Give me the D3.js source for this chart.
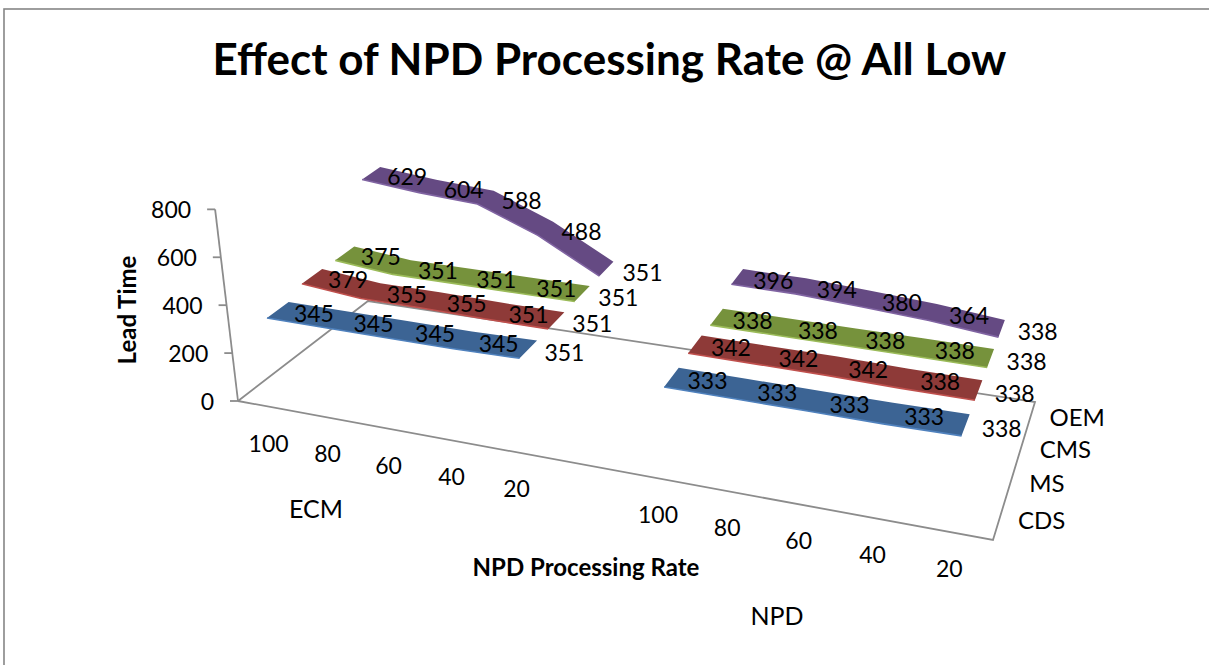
<!DOCTYPE html>
<html><head><meta charset="utf-8">
<style>html,body{margin:0;padding:0;background:#fff;overflow:hidden}svg{display:block}text{font-family:Lato,"Open Sans",sans-serif;fill:#000}</style>
<script src="https://cdn.jsdelivr.net/npm/d3@7/dist/d3.min.js"></script></head><body>
<script>
const title = "Effect of NPD Processing Rate @ All Low";
const categories = ["100","80","60","40","20","","100","80","60","40","20"];
const seriesNames = ["CDS","MS","CMS","OEM"];
const groupNames = ["ECM","NPD"];
const yTicks = [0,200,400,600,800];
const cds = [345,345,345,345,351,null,333,333,333,333,338];
const ms  = [379,355,355,351,351,null,342,342,342,338,338];
const cms = [375,351,351,351,351,null,338,338,338,338,338];
const oem = [629,604,588,488,351,null,396,394,380,364,338];
const seriesValues = [cds,ms,cms,oem];
const topColors = ["#3c6494","#8e3a38","#76923c","#654a83"];
const edgeColors = ["#4f81bd","#c0504d","#9bbb59","#8064a2"];

const W=1209,H=665;
const svg=d3.select("body").append("svg").attr("width",W).attr("height",H);

// floor quad of the 3D box → projective map
const Q=[[238,401],[993,540],[1035,402],[368,301]];
const [x0,y0]=Q[0],[x1,y1]=Q[1],[x2,y2]=Q[2],[x3,y3]=Q[3];
const sx=x0-x1+x2-x3, sy=y0-y1+y2-y3, dx1=x1-x2, dx2=x3-x2, dy1=y1-y2, dy2=y3-y2;
const det=dx1*dy2-dx2*dy1;
const g=(sx*dy2-dx2*sy)/det, h=(dx1*sy-sx*dy1)/det;
const a=x1-x0+g*x1, b=x3-x0+h*x3, d_=y1-y0+g*y1, e=y3-y0+h*y3;
const VP=[620,3600];
const uScale=d3.scaleLinear().domain([0,4,6,10]).range([0.0485,0.4135,0.602,0.9515]);
const vScale=d3.scalePoint().domain(d3.range(seriesNames.length)).range([0,1]).padding(0.5);
const yScale=d3.scaleLinear().domain([0,800]).range([0,193]);
function project(u,v,val){
  const w=g*u+h*v+1, fx=(a*u+b*v+x0)/w, fy=(d_*u+e*v+y0)/w;
  if(!val) return [fx,fy];
  const px=yScale(val)/Math.pow(w,0.5), dx=fx-VP[0], dy=fy-VP[1], L=Math.hypot(dx,dy);
  return [fx+dx/L*px, fy+dy/L*px];
}
const line=d3.line();

// chart frame
svg.append("rect").attr("x",4).attr("y",9).attr("width",W+20).attr("height",H+20)
  .attr("fill","#fff").attr("stroke","#868686").attr("stroke-width",1.6);

svg.append("text").attr("x",609.5).attr("y",75).attr("text-anchor","middle")
  .attr("font-size",44).attr("font-weight",700).text(title);

// floor lines and axes
const axisG=svg.append("g").attr("fill","none").attr("stroke","#8c8c8c").attr("stroke-width",1.8);
axisG.append("path").attr("d",line([...Q,Q[0]]));
axisG.append("path").attr("d",line([project(0,0),project(0,0,800)]));
yTicks.forEach(t=>{
  const p=t?project(0,0,t):project(0,0);
  axisG.append("path").attr("d",line([[p[0]-8,p[1]],p]));
  svg.append("text").attr("x",p[0]-24).attr("y",p[1]+9).attr("text-anchor","end").attr("font-size",23).text(t);
});

// ribbons
const halfDepth=0.075;
const labels=[];
d3.range(seriesNames.length).reverse().forEach(si=>{
  const vals=seriesValues[si], vc=vScale(si);
  const runs=[d3.range(0,5),d3.range(6,11)];
  runs.forEach(run=>{
    const frontPts=run.map(i=>project(uScale(i),vc-halfDepth,vals[i]));
    const backPts=run.map(i=>project(uScale(i),vc+halfDepth,vals[i]));
    svg.append("path").attr("d",line([...backPts,...frontPts.slice().reverse()])+"Z")
      .attr("fill",topColors[si]);
    svg.append("path").attr("d",line(frontPts)).attr("fill","none")
      .attr("stroke",edgeColors[si]).attr("stroke-width",1.6);
    run.forEach(i=>{
      const c=project(uScale(i),vc,vals[i]);
      labels.push({x:c[0]+36,y:c[1]+4,t:vals[i]});
    });
  });
});
svg.append("g").selectAll("text").data(labels).join("text")
  .attr("x",d=>d.x).attr("y",d=>d.y+8).attr("text-anchor","middle").attr("font-size",23).text(d=>d.t);

// category labels
categories.forEach((c,i)=>{
  if(!c) return;
  const p=project(uScale(i),0);
  svg.append("text").attr("x",p[0]).attr("y",p[1]+45).attr("text-anchor","middle").attr("font-size",23).text(c);
});
// series labels
seriesNames.forEach((s,i)=>{
  const p=project(1,vScale(i));
  svg.append("text").attr("x",p[0]+19).attr("y",p[1]+9).attr("font-size",24).text(s);
});
// group labels
[[groupNames[0],316,518],[groupNames[1],777,625]].forEach(([t,x,y])=>{
  svg.append("text").attr("x",x).attr("y",y).attr("text-anchor","middle").attr("font-size",25).text(t);
});
svg.append("text").attr("x",586).attr("y",576).attr("text-anchor","middle").attr("font-size",24).attr("font-weight",700).text("NPD Processing Rate");
svg.append("text").attr("transform","translate(136,310) rotate(-90)").attr("text-anchor","middle").attr("font-size",24).attr("font-weight",700).text("Lead Time");
</script></body></html>
